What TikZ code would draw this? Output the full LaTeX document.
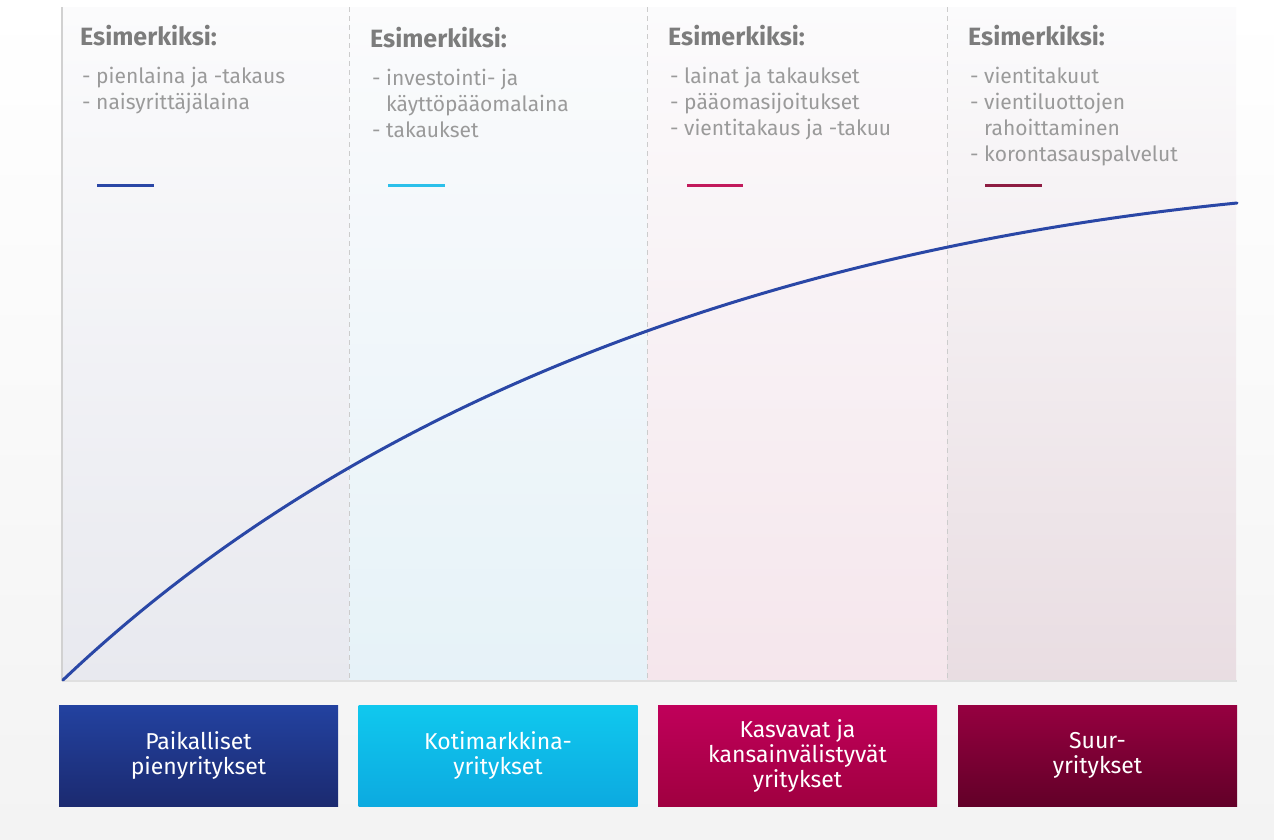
\documentclass[tikz,border=0pt]{standalone}
\usepackage{fontspec}
\setmainfont{Fira Sans}
\newfontfamily\boxfont{Fira Sans}
\definecolor{bgbot}{HTML}{F3F3F3}
\definecolor{ptop}{HTML}{FBFBFC}
\definecolor{pone}{HTML}{E8E9EF}
\definecolor{ptwo}{HTML}{E6F2F8}
\definecolor{pthree}{HTML}{F5E6EC}
\definecolor{pfour}{HTML}{E9DDE2}
\definecolor{headgray}{HTML}{7C7C7C}
\definecolor{itemgray}{HTML}{9A9A9A}
\definecolor{curveblue}{HTML}{2A47A6}
\definecolor{legone}{HTML}{2B47A6}
\definecolor{legtwo}{HTML}{2CC0EA}
\definecolor{legthree}{HTML}{C21A5C}
\definecolor{legfour}{HTML}{8E1C42}
\definecolor{boneT}{HTML}{2342A0}
\definecolor{boneB}{HTML}{1B2A70}
\definecolor{btwoT}{HTML}{10C8EE}
\definecolor{btwoB}{HTML}{0CAAE0}
\definecolor{bthreeT}{HTML}{C0005A}
\definecolor{bthreeB}{HTML}{A00040}
\definecolor{bfourT}{HTML}{960040}
\definecolor{bfourB}{HTML}{620028}
\tikzset{
  head/.style={anchor=base west, inner sep=0pt, text=headgray, font=\fontsize{25}{28}\selectfont\bfseries},
  item/.style={anchor=base west, inner sep=0pt, text=itemgray, font=\fontsize{21}{26}\selectfont},
  legend/.style={line width=3pt},
  divider/.style={draw=black!20, line width=1pt, dash pattern=on 5pt off 4pt},
  curve/.style={draw=curveblue, line width=3pt, line cap=round},
  catbox/.style={minimum width=279pt, minimum height=101pt, inner sep=0pt, align=center, text=white, font=\boxfont\fontsize{23}{25}\selectfont},
}
\begin{document}
\begin{tikzpicture}[x=1pt,y=-1pt]
\useasboundingbox (0,0) rectangle (1274,839);
\shade[top color=white, bottom color=bgbot] (0,0) rectangle (1274,839);
% panels
\shade[top color=ptop, bottom color=pone] (62,7) rectangle (349,681);
\shade[top color=ptop, bottom color=ptwo] (349,7) rectangle (647,681);
\shade[top color=ptop, bottom color=pthree] (647,7) rectangle (947,681);
\shade[top color=ptop, bottom color=pfour] (947,7) rectangle (1236,681);
\draw[divider] (349,7) -- (349,681);
\draw[divider] (647,7) -- (647,681);
\draw[divider] (947,7) -- (947,681);
\draw[draw=black!18, line width=1.5pt] (62,7) -- (62,681);
\draw[draw=black!12, line width=2pt] (62,681) -- (1237,681);
% column 1
\node[head] (h1) at (80,45) {Esimerkiksi:};
\node[item] (i11) at (82,83) {- pienlaina ja -takaus};
\node[item] (i12) at (82,109) {- naisyrittäjälaina};
% column 2
\node[head] (h2) at (370,47) {Esimerkiksi:};
\node[item] (i21) at (372,85) {- investointi- ja};
\node[item] (i22) at (372,111) {\phantom{- }käyttöpääomalaina};
\node[item] (i23) at (372,137) {- takaukset};
% column 3
\node[head] (h3) at (668,45) {Esimerkiksi:};
\node[item] (i31) at (670,83) {- lainat ja takaukset};
\node[item] (i32) at (670,109) {- pääomasijoitukset};
\node[item] (i33) at (670,135) {- vientitakaus ja -takuu};
% column 4
\node[head] (h4) at (968,45) {Esimerkiksi:};
\node[item] (i41) at (970,83) {- vientitakuut};
\node[item] (i42) at (970,109) {- vientiluottojen};
\node[item] (i43) at (970,135) {\phantom{- }rahoittaminen};
\node[item] (i44) at (970,161) {- korontasauspalvelut};
% legend lines
\draw[legend, legone] (97,185) -- (154,185);
\draw[legend, legtwo] (388,185) -- (445,185);
\draw[legend, legthree] (687,185) -- (743,185);
\draw[legend, legfour] (985,185) -- (1042,185);
% curve
\coordinate (cs) at (63,680);
\coordinate (ce) at (1237,203);
\draw[curve] (cs) .. controls (413,347.5) and (887,238) .. (ce);
% category boxes
\node[catbox, top color=boneT, bottom color=boneB] (b1) at (198.5,755.5) {Paikalliset\\pienyritykset};
\node[catbox, top color=btwoT, bottom color=btwoB] (b2) at (498,755.5) {Kotimarkkina-\\yritykset};
\node[catbox, top color=bthreeT, bottom color=bthreeB] (b3) at (797.5,755.5) {Kasvavat ja\\kansainvälistyvät\\yritykset};
\node[catbox, top color=bfourT, bottom color=bfourB] (b4) at (1097.5,755.5) {Suur-\\yritykset};
\end{tikzpicture}
\end{document}
